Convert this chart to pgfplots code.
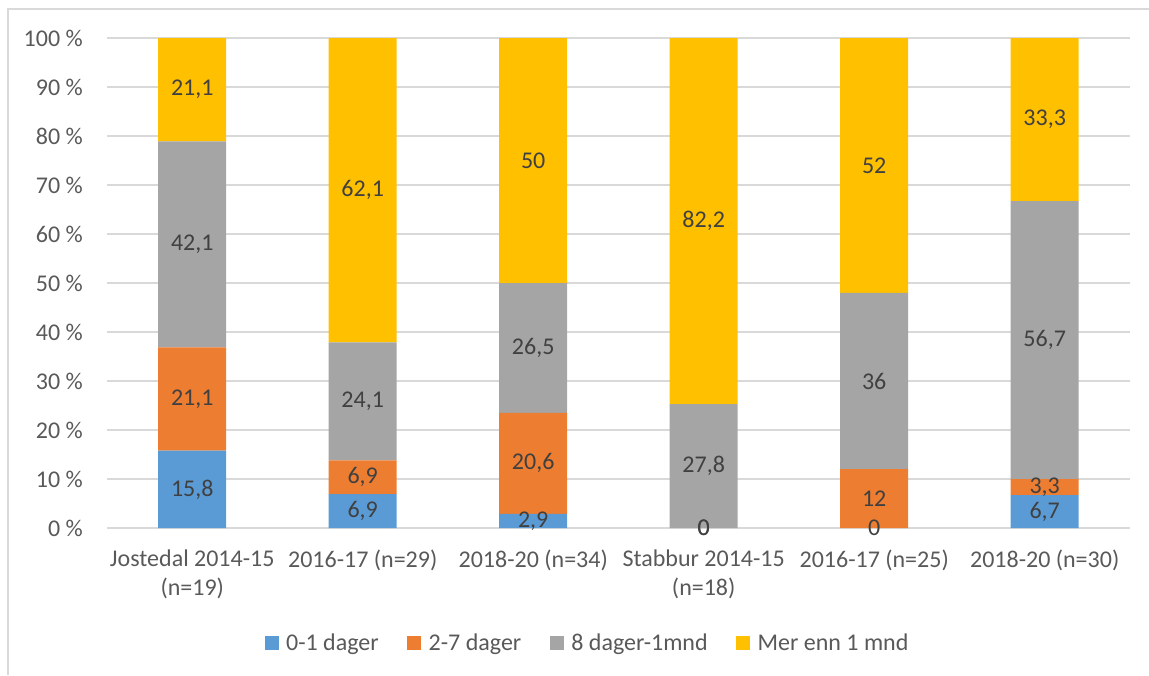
\documentclass[border=0pt]{standalone}
\usepackage{pgfplots}
\usepackage{pgfplotstable}
\pgfplotsset{compat=1.18}
\usepackage{fontspec}
\setmainfont{Carlito}
\definecolor{cBlue}{HTML}{5B9BD5}
\definecolor{cOrange}{HTML}{ED7D31}
\definecolor{cGray}{HTML}{A5A5A5}
\definecolor{cYellow}{HTML}{FFC000}
\definecolor{cGrid}{HTML}{D9D9D9}
\definecolor{cText}{HTML}{595959}
\definecolor{cLabel}{HTML}{404040}
% shares (normalised to 100 %)
\pgfplotstableread{
x  b      o      g      yv
0  15.78  21.08  42.06  21.08
1  6.9    6.9    24.1   62.1
2  2.9    20.6   26.5   50
3  0      0      25.27  74.73
4  0      12     36     52
5  6.7    3.3    56.7   33.3
}\bars
% label positions (segment centres) and printed values
\pgfplotstableread{
x  y      lab
0  7.89   15,8
1  3.45   6,9
2  1.45   2,9
3  0      0
4  0      0
5  3.35   6,7
}\labB
\pgfplotstableread{
x  y      lab
0  26.32  21,1
1  10.35  6,9
2  13.2   20,6
3  0      0
4  6      12
5  8.35   3,3
}\labO
\pgfplotstableread{
x  y      lab
0  57.89  42,1
1  25.85  24,1
2  36.75  26,5
3  12.64  27,8
4  30     36
5  38.35  56,7
}\labG
\pgfplotstableread{
x  y      lab
0  89.46  21,1
1  68.95  62,1
2  75     50
3  62.64  82,2
4  74     52
5  83.35  33,3
}\labY
\pgfplotsset{
  common/.style={
    at={(107pt,-528pt)}, anchor=south west,
    scale only axis, width=1023pt, height=490pt,
    xmin=-0.5, xmax=5.5, ymin=0, ymax=100,
  },
  lbl/.style={draw=none, mark=none, nodes near coords,
    point meta=explicit symbolic,
    every node near coord/.append style={anchor=center, inner sep=0pt,
      font=\fontsize{24pt}{29pt}\selectfont, text=cLabel}},
}
\begin{document}
\begin{tikzpicture}[x=1pt,y=1pt]
\useasboundingbox (0,0) rectangle (1149,-675);
\draw[cGrid, line width=1.5pt] (8,-675) -- (8,-9) -- (1149,-9);
\begin{axis}[common,
  ybar stacked, bar width=68pt,
  axis line style={draw=none},
  major tick length=0pt,
  ymajorgrids, grid style={cGrid, line width=1.3pt},
  ytick={0,10,...,100},
  yticklabel={\pgfmathprintnumber{\tick}~\%},
  /pgf/number format/assume math mode=true,
  yticklabel style={inner sep=0pt, xshift=-24pt, font=\fontsize{24pt}{29pt}\selectfont, text=cText},
  xtick={0,1,2,3,4,5},
  xticklabels={{Jostedal 2014-15\\(n=19)},{2016-17 (n=29)},{2018-20 (n=34)},{Stabbur 2014-15\\(n=18)},{2016-17 (n=25)},{2018-20 (n=30)}},
  xticklabel style={inner sep=0pt, anchor=north, yshift=-22pt, align=center, font=\fontsize{24pt}{29pt}\selectfont, text=cText},
  legend style={at={(0.470,-0.2347)}, anchor=center, legend columns=-1, draw=none,
    font=\fontsize{24pt}{29pt}\selectfont, text=cText,
    nodes={inner sep=2.5pt},
    /tikz/every odd column/.append style={column sep=5pt},
    /tikz/every even column/.append style={column sep=26pt}},
  legend image code/.code={\fill[#1] (0pt,-7pt) rectangle (14pt,7pt);},
]
\addplot[fill=cBlue, draw=none] table[x=x, y=b] {\bars};
\addplot[fill=cOrange, draw=none] table[x=x, y=o] {\bars};
\addplot[fill=cGray, draw=none] table[x=x, y=g] {\bars};
\addplot[fill=cYellow, draw=none] table[x=x, y=yv] {\bars};
\legend{0-1 dager, 2-7 dager, 8 dager-1mnd, Mer enn 1 mnd}
\end{axis}
\begin{axis}[common, hide axis]
\addplot[lbl] table[x=x, y=y, meta=lab] {\labB};
\addplot[lbl] table[x=x, y=y, meta=lab] {\labO};
\addplot[lbl] table[x=x, y=y, meta=lab] {\labG};
\addplot[lbl] table[x=x, y=y, meta=lab] {\labY};
\end{axis}
\end{tikzpicture}
\end{document}
